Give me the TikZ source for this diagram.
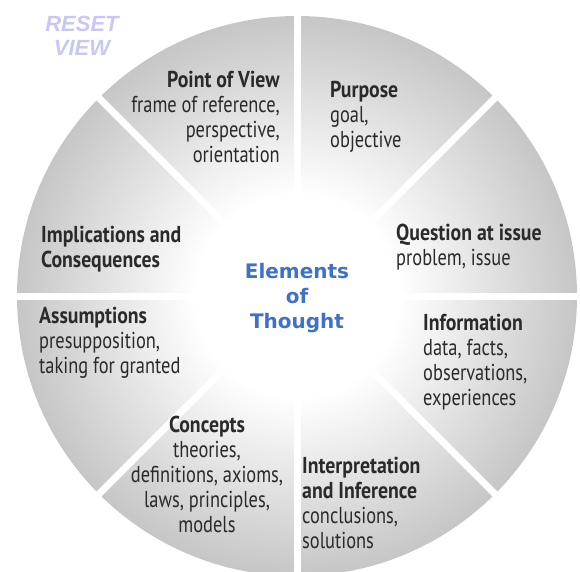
\documentclass[tikz,border=0pt]{standalone}
\usepackage{fontspec}
\usetikzlibrary{calc}
\setmainfont[FakeStretch=0.8, BoldFeatures={FakeStretch=0.86}]{PT Sans}
\newfontfamily\centerfont{DejaVu Sans}
\newfontfamily\resetfont{Liberation Sans}
\definecolor{rimgray}{RGB}{198,198,198}
\definecolor{eltblue}{RGB}{62,112,204}
\definecolor{resetcol}{RGB}{200,200,244}
\definecolor{txt}{RGB}{42,42,42}
\pgfdeclareradialshading{discshade}{\pgfpointorigin}{color(0bp)=(white); color(9bp)=(white); color(25bp)=(rimgray); color(50bp)=(rimgray)}
\newcommand{\elt}[3]{\begin{tabular}[t]{@{}#1@{}}\textbf{#2}\\#3\end{tabular}}
\tikzset{
  lbl/.style={inner sep=0pt, text=txt, font=\fontsize{23}{25}\selectfont},
  gapline/.style={white, line width=7pt},
}
\begin{document}
\begin{tikzpicture}[x=1pt,y=-1pt]
\useasboundingbox (0,0) rectangle (580,571);
\clip (0,0) rectangle (580,571);
\coordinate (c) at (297,296);
\shade[shading=discshade] (c) circle (280);
\foreach \a in {0,45,90,135}{
  \draw[gapline] ($(c)+(\a:300)$) -- ($(c)+(\a+180:300)$);
}
\node[lbl, anchor=base east] (pov) at (280,87) {\elt{r}{Point of View}{frame of reference,\\perspective,\\orientation}};
\node[lbl, anchor=base west] (purpose) at (330,97) {\elt{l}{Purpose}{goal,\\objective}};
\node[lbl, anchor=base west] (question) at (396,240) {\elt{l}{Question at issue}{problem, issue}};
\node[lbl, anchor=base west] (impl) at (41,242) {\elt{l}{Implications and}{\textbf{Consequences}}};
\node[lbl, anchor=base west] (assum) at (39,323) {\elt{l}{Assumptions}{presupposition,\\taking for granted}};
\node[lbl, anchor=base] (concepts) at (207,432) {\elt{c}{Concepts}{theories,\\definitions, axioms,\\laws, principles,\\models}};
\node[lbl, anchor=base west] (info) at (423,330) {\elt{l}{Information}{data, facts,\\observations,\\experiences}};
\node[lbl, anchor=base west] (interp) at (302,473) {\elt{l}{Interpretation}{\textbf{and Inference}\\conclusions,\\solutions}};
\node[inner sep=0pt, anchor=base, text=eltblue, font=\centerfont\bfseries\fontsize{20}{25}\selectfont] (center) at (297,278) {\begin{tabular}[t]{@{}c@{}}Elements\\of\\Thought\end{tabular}};
\node[inner sep=0pt, anchor=base, text=resetcol, font=\resetfont\bfseries\itshape\fontsize{22}{24}\selectfont] (reset) at (82,31) {\begin{tabular}[t]{@{}c@{}}RESET\\VIEW\end{tabular}};
\end{tikzpicture}
\end{document}
